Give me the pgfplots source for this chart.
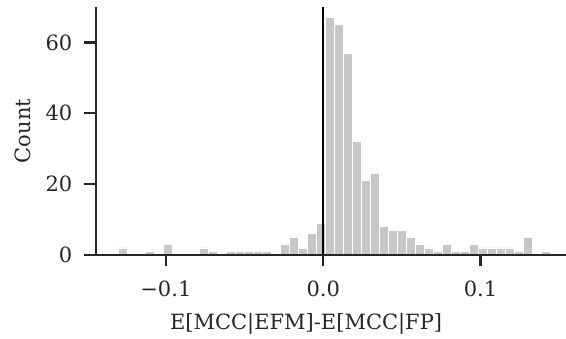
\documentclass[border=0pt]{standalone}
\usepackage{fontspec}
\setmainfont{DejaVu Serif}
\usepackage{pgfplots}
\pgfplotsset{compat=1.18}
\definecolor{spine}{HTML}{262626}
\definecolor{bargray}{RGB}{199,199,199}
\begin{document}
\begin{tikzpicture}
\useasboundingbox (-96pt,-84pt) rectangle (470pt,255pt);
\begin{axis}[
  at={(0,0)}, anchor=south west,
  scale only axis, width=470pt, height=248pt,
  xmin=-0.14443, xmax=0.15432, ymin=0, ymax=70,
  axis x line*=bottom, axis y line*=left,
  axis line style={spine, line width=2.2pt},
  axis on top,
  tick align=outside,
  major tick length=11.5pt,
  every tick/.style={spine, line width=2.2pt},
  xtick={-0.1,0,0.1}, xticklabels={−0.1,0.0,0.1},
  ytick={0,20,40,60}, yticklabels={0,20,40,60},
  minor tick num=0,
  tick label style={font=\fontsize{21}{25}\selectfont, text=spine, inner sep=0pt},
  xticklabel shift=14pt,
  yticklabel shift=12pt,
  label style={font=\fontsize{21}{25}\selectfont, text=spine},
  xlabel={E[MCC|EFM]-E[MCC|FP]},
  ylabel={Count},
  xlabel style={at={([yshift=-75pt]rel axis cs:0.447,0)}, anchor=base, inner sep=0pt},
  ylabel style={at={([xshift=-73pt]rel axis cs:0,0.5)}, anchor=center, inner sep=0pt},
  clip=false,
]
\addplot[ybar interval, fill=bargray, draw=white, line width=0.8pt] coordinates {
(-0.13018,2) (-0.12447,0) (-0.11875,0) (-0.11304,1) (-0.10733,0) (-0.10161,3)
(-0.09590,0) (-0.09018,0) (-0.08447,0) (-0.07875,2) (-0.07304,1) (-0.06733,0)
(-0.06161,1) (-0.05590,1) (-0.05018,1) (-0.04447,1) (-0.03875,1) (-0.03304,0)
(-0.02733,3) (-0.02161,5) (-0.01590,2) (-0.01018,6) (-0.00447,9) (0.00125,67)
(0.00696,65) (0.01268,57) (0.01839,32) (0.02411,21) (0.02982,23) (0.03553,8)
(0.04125,7) (0.04696,7) (0.05268,5) (0.05839,3) (0.06411,2) (0.06982,1)
(0.07553,3) (0.08125,1) (0.08696,1) (0.09268,3) (0.09839,2) (0.10411,2)
(0.10982,2) (0.11553,2) (0.12125,1) (0.12696,5) (0.13268,0) (0.13839,1)
(0.14411,0)
};
\addplot[black, line width=2.3pt] coordinates {(0,0) (0,70)};
\end{axis}
\end{tikzpicture}
\end{document}
